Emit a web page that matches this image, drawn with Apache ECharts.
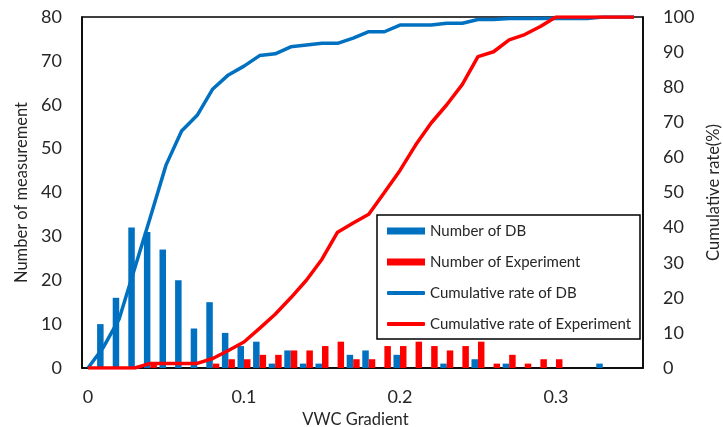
<!DOCTYPE html>
<html>
<head>
<meta charset="utf-8">
<script src="https://cdn.jsdelivr.net/npm/echarts@6/dist/echarts.min.js"></script>
<style>
html,body{margin:0;padding:0;background:#fff;}
#chart{width:723px;height:427px;}
</style>
</head>
<body>
<div id="chart"></div>
<script>
// VWC gradient bins
const gradient = [0.00,0.01,0.02,0.03,0.04,0.05,0.06,0.07,0.08,0.09,0.10,0.11,0.12,0.13,0.14,0.15,0.16,0.17,0.18,0.19,0.20,0.21,0.22,0.23,0.24,0.25,0.26,0.27,0.28,0.29,0.30,0.31,0.32,0.33,0.34,0.35];
// Number of measurements
const dbCount  = [0,10,16,32,31,27,20,9,15,8,5,6,1,4,1,1,0,3,4,0,3,0,0,1,0,2,0,1,0,0,0,0,0,1,0,0];
const expCount = [0,0,0,0,1,0,0,0,1,2,2,3,3,4,4,5,6,2,2,5,5,6,5,4,5,6,1,3,1,2,2,0,0,0,0,0];
// Cumulative rate (%)
const cumDB  = [0,6,14,28.5,43,57.8,67.5,72,79.5,83.5,86,89,89.5,91.5,92,92.5,92.5,94,95.8,95.8,97.7,97.7,97.7,98.2,98.2,99.3,99.3,99.6,99.6,99.6,99.6,99.6,99.6,100,100,100];
const cumExp = [0,0,0,0,1.3,1.3,1.3,1.3,2.7,5,7.4,11.3,15.3,20,25,31,38.7,41.3,43.8,50,56.3,63.5,69.8,75,80.8,88.7,90.1,93.5,95,97.3,100,100,100,100,100,100];
// Tick labels
const xTicks = [0, 0.1, 0.2, 0.3];
const seriesNames = ['Number of DB','Number of Experiment','Cumulative rate of DB','Cumulative rate of Experiment'];

const BLUE = '#0070C0', RED = '#FF0000', TXT = '#262626', FONT = 'Lato';
const pairs = (ys) => gradient.map((x, i) => [x, ys[i]]);

const chart = echarts.init(document.getElementById('chart'), null, {renderer: 'canvas'});
chart.setOption({
  animation: false,
  backgroundColor: '#fff',
  textStyle: {fontFamily: FONT},
  grid: {left: 82, right: 80, top: 17, bottom: 59, show: true, borderColor: '#000', borderWidth: 1.5,
         backgroundColor: 'transparent', containLabel: false, outerBoundsMode: 'none'},
  xAxis: {
    type: 'value', min: -0.00385, max: 0.3558,
    name: 'VWC Gradient', nameLocation: 'middle', nameGap: 34,
    nameTextStyle: {fontSize: 16.5, color: TXT, fontFamily: FONT, padding: [0, 14, 0, 0]},
    splitLine: {show: false}, axisTick: {show: false},
    axisLine: {show: true, onZero: false, lineStyle: {color: '#000', width: 1.5}},
    axisLabel: {customValues: xTicks, fontSize: 18, color: TXT, fontFamily: FONT, margin: 20,
      formatter: v => String(Math.round(v * 10) / 10)}
  },
  yAxis: [{
    type: 'value', min: 0, max: 80, interval: 10, position: 'left',
    name: 'Number of measurement', nameLocation: 'middle', nameGap: 52,
    nameTextStyle: {fontSize: 16.5, color: TXT, fontFamily: FONT},
    splitLine: {show: false}, axisTick: {show: false},
    axisLine: {show: true, onZero: false, lineStyle: {color: '#000', width: 1.5}},
    axisLabel: {fontSize: 18, color: TXT, fontFamily: FONT, margin: 20}
  }, {
    type: 'value', min: 0, max: 100, interval: 10, position: 'right',
    name: 'Cumulative rate(%)', nameLocation: 'middle', nameGap: 56, nameRotate: 90,
    nameTextStyle: {fontSize: 16.5, color: TXT, fontFamily: FONT},
    splitLine: {show: false}, axisTick: {show: false},
    axisLine: {show: true, onZero: false, lineStyle: {color: '#000', width: 1.5}},
    axisLabel: {fontSize: 18, color: TXT, fontFamily: FONT, margin: 20}
  }],
  legend: [{
    orient: 'vertical', left: 387, top: 223, padding: 0, z: 10,
    itemWidth: 38, itemHeight: 7, itemGap: 15,
    textStyle: {fontSize: 15, lineHeight: 16, color: TXT, fontFamily: FONT},
    data: [{name: seriesNames[0], icon: 'rect'}, {name: seriesNames[1], icon: 'rect'}]
  }, {
    orient: 'vertical', left: 387, top: 285, padding: 0, z: 10,
    itemWidth: 38, itemHeight: 4, itemGap: 15,
    textStyle: {fontSize: 15, lineHeight: 16, color: TXT, fontFamily: FONT},
    data: [{name: seriesNames[2], icon: 'roundRect'}, {name: seriesNames[3], icon: 'roundRect'}]
  }],
  graphic: {elements: [{
    type: 'rect', z: 5, shape: {x: 377, y: 215, width: 263, height: 124},
    style: {fill: '#fff', stroke: '#000', lineWidth: 1.5}
  }]},
  series: [
    {name: seriesNames[0], type: 'bar', yAxisIndex: 0, data: pairs(dbCount), barWidth: 6.5, barGap: '0%', itemStyle: {color: BLUE}, z: 2},
    {name: seriesNames[1], type: 'bar', yAxisIndex: 0, data: pairs(expCount), barWidth: 6.5, barGap: '0%', itemStyle: {color: RED}, z: 2},
    {name: seriesNames[2], type: 'line', yAxisIndex: 1, data: pairs(cumDB), symbol: 'none', lineStyle: {color: BLUE, width: 3.5}, itemStyle: {color: BLUE}, z: 3},
    {name: seriesNames[3], type: 'line', yAxisIndex: 1, data: pairs(cumExp), symbol: 'none', lineStyle: {color: RED, width: 3.5}, itemStyle: {color: RED}, z: 3}
  ]
});
</script>
</body>
</html>
